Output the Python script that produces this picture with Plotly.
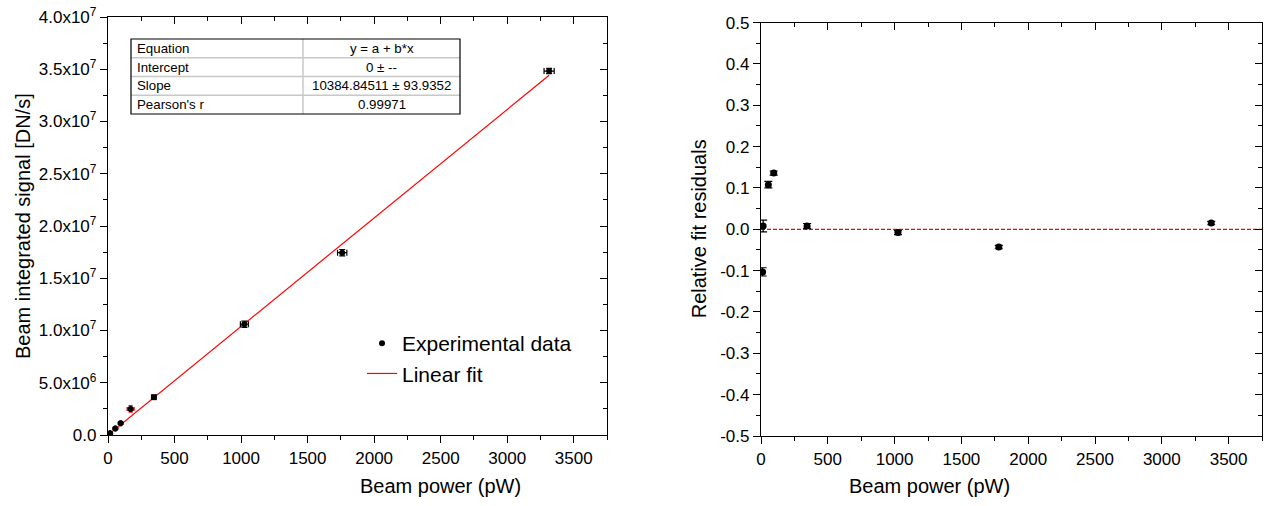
import plotly.graph_objects as go

# ---------------- data ----------------
power_pw = [12, 16, 55, 95, 345, 1025, 1760, 3315]
power_err = [2, 2, 3, 4, 15, 30, 35, 38]
signal_dns = [1.12e5, 1.68e5, 6.3e5, 1.12e6, 3.62e6, 1.060e7, 1.745e7, 3.483e7]
signal_err = [3e4, 4e4, 6e4, 8e4, 2.0e5, 3.0e5, 3.0e5, 2.5e5]

masked_power = [170]
masked_power_err = [25]
masked_signal = [2.49e6]
masked_signal_err = [3.0e5]

fit_intercept = 0.0
fit_slope = 10384.84511
fit_x = [0, 3315]

resid_power = [12, 16, 55, 95, 345, 1025, 1780, 3370]
residuals = [-0.103, 0.008, 0.108, 0.136, 0.008, -0.008, -0.043, 0.015]
resid_err = [0.010, 0.014, 0.008, 0.005, 0.006, 0.005, 0.004, 0.004]

x_ticks = [0, 500, 1000, 1500, 2000, 2500, 3000, 3500]
x_minor = [250, 750, 1250, 1750, 2250, 2750, 3250, 3750]
y1_ticks = [0, 5e6, 1e7, 1.5e7, 2e7, 2.5e7, 3e7, 3.5e7, 4e7]
y1_labels = ["0.0", "5.0x10<sup>6</sup>", "1.0x10<sup>7</sup>", "1.5x10<sup>7</sup>",
             "2.0x10<sup>7</sup>", "2.5x10<sup>7</sup>", "3.0x10<sup>7</sup>",
             "3.5x10<sup>7</sup>", "4.0x10<sup>7</sup>"]
y1_minor = [2.5e6, 7.5e6, 1.25e7, 1.75e7, 2.25e7, 2.75e7, 3.25e7, 3.75e7]
y2_ticks = [-0.5, -0.4, -0.3, -0.2, -0.1, 0.0, 0.1, 0.2, 0.3, 0.4, 0.5]
y2_labels = ["-0.5", "-0.4", "-0.3", "-0.2", "-0.1", "0.0", "0.1", "0.2", "0.3", "0.4", "0.5"]
y2_minor = [-0.45, -0.35, -0.25, -0.15, -0.05, 0.05, 0.15, 0.25, 0.35, 0.45]

table_rows = [("Equation", "y = a + b*x"),
              ("Intercept", "0 \u00b1 --"),
              ("Slope", "10384.84511 \u00b1 93.9352"),
              ("Pearson's r", "0.99971")]

# ---------------- figure ----------------
FONT = "Liberation Sans, Arial, sans-serif"
W, H = 1274, 506
xd1 = [108 / W, 607 / W]
xd2 = [761 / W, 1262 / W]
yd1 = [(H - 435) / H, (H - 17) / H]
yd2 = [(H - 436) / H, (H - 22.6) / H]

fig = go.Figure()

fig.add_trace(go.Scatter(
    x=fit_x, y=[fit_intercept + fit_slope * v for v in fit_x],
    mode="lines", line=dict(color="#ff0000", width=1.2),
    name="Linear fit", xaxis="x", yaxis="y", legendrank=2))

fig.add_trace(go.Scatter(
    x=masked_power, y=masked_signal, mode="markers",
    marker=dict(color="black", size=6),
    error_x=dict(type="data", array=masked_power_err, color="#ff0000", thickness=1.5, width=2),
    error_y=dict(type="data", array=masked_signal_err, color="#ff0000", thickness=1.5, width=2),
    showlegend=False, xaxis="x", yaxis="y"))

fig.add_trace(go.Scatter(
    x=power_pw, y=signal_dns, mode="markers",
    marker=dict(color="black", size=6),
    error_x=dict(type="data", array=power_err, color="black", thickness=1.2, width=3),
    error_y=dict(type="data", array=signal_err, color="black", thickness=1.2, width=3),
    name="Experimental data", xaxis="x", yaxis="y", legendrank=1))

# residual zero line
fig.add_trace(go.Scatter(
    x=[0, 3750], y=[0, 0], mode="lines",
    line=dict(color="#ff0000", width=1.3, dash="4px,2px"),
    showlegend=False, xaxis="x2", yaxis="y2"))

fig.add_trace(go.Scatter(
    x=resid_power, y=residuals, mode="markers",
    marker=dict(color="black", size=7),
    error_y=dict(type="data", array=resid_err, color="black", thickness=1.2, width=4),
    showlegend=False, xaxis="x2", yaxis="y2"))

# invisible traces to show mirrored inside-tick axes
fig.add_trace(go.Scatter(x=[None], y=[None], xaxis="x3", yaxis="y3", showlegend=False, hoverinfo="skip"))
fig.add_trace(go.Scatter(x=[None], y=[None], xaxis="x4", yaxis="y4", showlegend=False, hoverinfo="skip"))

tickfont = dict(family=FONT, size=17, color="black")
common = dict(showgrid=False, zeroline=False, linecolor="black", linewidth=1.3,
              tickcolor="black", tickwidth=1.3, tickfont=tickfont)

xmain = dict(range=[0, 3750], tickmode="array", tickvals=x_ticks, ticks="outside", ticklen=7,
             mirror=True, showline=True,
             minor=dict(tickmode="array", tickvals=x_minor, ticks="outside", ticklen=4,
                        tickcolor="black", tickwidth=1.3), **common)
xtop = dict(range=[0, 3750], tickmode="array", tickvals=x_ticks, ticks="inside", ticklen=7,
            showline=False, showticklabels=False, side="top",
            minor=dict(tickmode="array", tickvals=x_minor, ticks="inside", ticklen=4,
                       tickcolor="black", tickwidth=1.3), **common)

fig.update_layout(
    width=W, height=H, margin=dict(l=0, r=0, t=0, b=0, autoexpand=False),
    paper_bgcolor="white", plot_bgcolor="white",
    font=dict(family=FONT, color="black"),
    xaxis=dict(domain=xd1, anchor="y", **xmain),
    yaxis=dict(domain=yd1, anchor="x", range=[0, 4e7], tickmode="array", tickvals=y1_ticks,
               ticktext=y1_labels, ticks="outside", ticklen=7, mirror=True, showline=True,
               minor=dict(tickmode="array", tickvals=y1_minor, ticks="outside", ticklen=4,
                          tickcolor="black", tickwidth=1.3), **common),
    xaxis3=dict(overlaying="x", anchor="y", **xtop),
    yaxis3=dict(overlaying="y", anchor="x", side="right", range=[0, 4e7], tickmode="array",
                tickvals=y1_ticks, ticks="inside", ticklen=7, showline=False, showticklabels=False,
                minor=dict(tickmode="array", tickvals=y1_minor, ticks="inside", ticklen=4,
                           tickcolor="black", tickwidth=1.3), **common),
    xaxis2=dict(domain=xd2, anchor="y2", **xmain),
    yaxis2=dict(domain=yd2, anchor="x2", range=[-0.5, 0.5], tickmode="array", tickvals=y2_ticks,
                ticktext=y2_labels, ticks="outside", ticklen=7, mirror=True, showline=True,
                minor=dict(tickmode="array", tickvals=y2_minor, ticks="outside", ticklen=4,
                           tickcolor="black", tickwidth=1.3), **common),
    xaxis4=dict(overlaying="x2", anchor="y2", **xtop),
    yaxis4=dict(overlaying="y2", anchor="x2", side="right", range=[-0.5, 0.5], tickmode="array",
                tickvals=y2_ticks, ticks="inside", ticklen=7, showline=False, showticklabels=False,
                minor=dict(tickmode="array", tickvals=y2_minor, ticks="inside", ticklen=4,
                           tickcolor="black", tickwidth=1.3), **common),
    legend=dict(x=362 / W, y=(H - 323) / H, xanchor="left", yanchor="top",
                bgcolor="rgba(0,0,0,0)", borderwidth=0,
                font=dict(family=FONT, size=21, color="black"),
                tracegroupgap=0, itemwidth=30),
)

# axis titles
titlefont = dict(family=FONT, size=20, color="black")
fig.add_annotation(text="Beam power (pW)", xref="paper", yref="paper", yanchor="middle",
                   x=(xd1[0] + xd1[1]) / 2, y=(H - 486) / H, showarrow=False, font=titlefont)
fig.add_annotation(text="Beam power (pW)", xref="paper", yref="paper", yanchor="middle",
                   x=(xd2[0] + xd2[1]) / 2, y=(H - 486) / H, showarrow=False, font=titlefont)
fig.add_annotation(text="Beam integrated signal [DN/s]", xref="paper", yref="paper",
                   xanchor="center", yanchor="middle",
                   x=23 / W, y=(yd1[0] + yd1[1]) / 2, textangle=-90, showarrow=False, font=titlefont)
fig.add_annotation(text="Relative fit residuals", xref="paper", yref="paper",
                   xanchor="center", yanchor="middle",
                   x=699 / W, y=(yd2[0] + yd2[1]) / 2, textangle=-90, showarrow=False, font=titlefont)

# fit results table (left panel, domain coordinates)
tx0, tx1, tsplit = (131 - 108) / 499, (460 - 108) / 499, (303 - 108) / 499
ty_top, ty_bot = (435 - 39) / 418, (435 - 114) / 418
n = len(table_rows)
rh = (ty_top - ty_bot) / n
for i in range(1, n):
    yy = ty_top - i * rh
    fig.add_shape(type="line", xref="x domain", yref="y domain", x0=tx0, x1=tx1, y0=yy, y1=yy,
                  line=dict(color="#c8c8c8", width=1.5))
fig.add_shape(type="line", xref="x domain", yref="y domain", x0=tsplit, x1=tsplit,
              y0=ty_bot, y1=ty_top, line=dict(color="#c8c8c8", width=1.5))
fig.add_shape(type="rect", xref="x domain", yref="y domain", x0=tx0, x1=tx1, y0=ty_bot, y1=ty_top,
              line=dict(color="black", width=1.2))
tfont = dict(family=FONT, size=13.3, color="black")
for i, (lab, val) in enumerate(table_rows):
    yc = ty_top - (i + 0.5) * rh
    fig.add_annotation(text=lab, xref="x domain", yref="y domain", x=tx0 + 0.008, y=yc,
                       xanchor="left", yanchor="middle", showarrow=False, font=tfont)
    fig.add_annotation(text=val, xref="x domain", yref="y domain", x=(tsplit + tx1) / 2, y=yc,
                       xanchor="center", yanchor="middle", showarrow=False, font=tfont)

fig.write_html("out.html", post_script="document.body.style.margin='0px';")
